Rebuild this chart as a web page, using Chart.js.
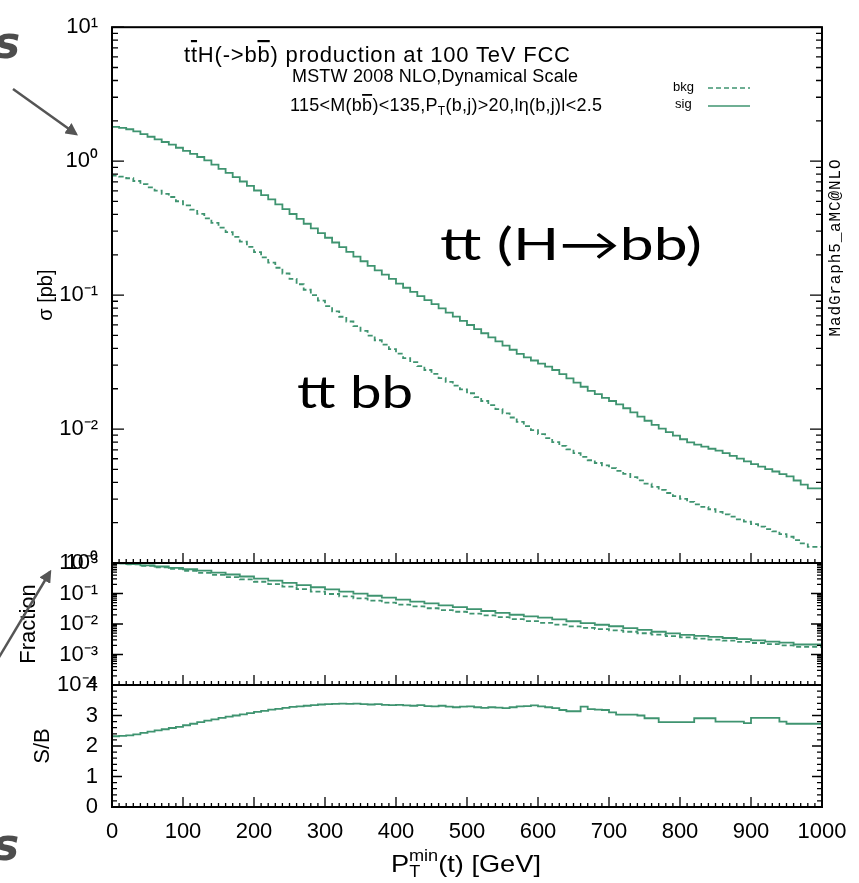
<!DOCTYPE html>
<html>
<head>
<meta charset="utf-8">
<script src="https://cdn.jsdelivr.net/npm/chart.js@4.4.1/dist/chart.umd.min.js"></script>
<style>
  html,body{margin:0;padding:0;background:#fff;}
  #wrap{position:relative;width:859px;height:883px;overflow:hidden;background:#fff;}
  canvas,svg{position:absolute;left:0;top:0;}
</style>
</head>
<body>
<div id="wrap">
  <canvas id="cMain" width="859" height="883"></canvas>
  <canvas id="cFrac" width="859" height="883"></canvas>
  <canvas id="cSB" width="859" height="883"></canvas>
  <svg id="ov" width="859" height="883" xmlns="http://www.w3.org/2000/svg"></svg>
</div>
<script>
// ---------------- DATA ----------------
// bin width 10 GeV, lower edges 0..990
const binWidth = 10;
const sigXsec = [1.811,1.803,1.774,1.730,1.667,1.592,1.521,1.455,1.390,1.327,
1.259,1.194,1.132,1.074,1.014,0.942,0.877,0.817,0.760,0.705,
0.653,0.604,0.558,0.518,0.476,0.438,0.403,0.371,0.341,0.315,
0.290,0.268,0.247,0.228,0.210,0.194,0.179,0.165,0.153,0.142,
0.132,0.122,0.1135,0.1057,0.0984,0.0918,0.0855,0.0796,0.0741,0.0690,
0.0643,0.0598,0.0557,0.0519,0.0484,0.0451,0.0420,0.0391,0.0364,0.0343,
0.0325,0.0308,0.0292,0.0276,0.0257,0.0239,0.0222,0.0207,0.0193,0.0182,
0.0171,0.0162,0.0153,0.0143,0.0133,0.0124,0.01153,0.01074,0.01009,0.00948,
0.00893,0.00839,0.00794,0.00766,0.00740,0.00713,0.00689,0.00661,0.00631,0.00601,
0.00574,0.00547,0.00524,0.00502,0.00482,0.00461,0.00443,0.00413,0.00385,0.00361];

const bkgXsec = [0.785,0.780,0.767,0.745,0.711,0.673,0.637,0.603,0.570,0.540,
0.502,0.467,0.434,0.404,0.374,0.346,0.319,0.295,0.272,0.251,
0.229,0.209,0.191,0.175,0.160,0.145,0.132,0.1205,0.1096,0.0998,
0.0910,0.0828,0.0755,0.0689,0.0635,0.0586,0.0541,0.0499,0.0460,0.0427,
0.0395,0.0366,0.0339,0.0316,0.0295,0.0276,0.0258,0.0240,0.0225,0.0211,
0.0198,0.0185,0.0173,0.0162,0.0151,0.0141,0.0131,0.0122,0.0113,0.0105,
0.00982,0.00918,0.00857,0.00800,0.00750,0.00705,0.00661,0.00619,0.00585,0.00558,
0.00535,0.00511,0.00488,0.00463,0.00438,0.00414,0.00391,0.00370,0.00351,0.00333,
0.00316,0.00301,0.00286,0.00274,0.00262,0.00252,0.00241,0.00231,0.00222,0.00212,
0.00204,0.00195,0.00187,0.00179,0.00172,0.00164,0.00157,0.00148,0.00140,0.00132];

const sbRatio = [2.32,2.32,2.33,2.35,2.38,2.43,2.47,2.51,2.55,2.59,
2.63,2.68,2.73,2.78,2.83,2.87,2.92,2.96,3.00,3.04,
3.08,3.12,3.15,3.19,3.22,3.25,3.28,3.30,3.32,3.34,
3.36,3.37,3.38,3.39,3.38,3.39,3.37,3.36,3.37,3.35,
3.34,3.35,3.33,3.32,3.34,3.31,3.30,3.32,3.29,3.27,
3.29,3.30,3.27,3.25,3.27,3.26,3.24,3.27,3.30,3.31,
3.33,3.30,3.27,3.24,3.18,3.14,3.14,3.29,3.21,3.19,
3.18,3.10,3.03,3.03,3.03,3.00,2.91,2.91,2.78,2.78,
2.78,2.78,2.78,2.91,2.91,2.91,2.80,2.80,2.80,2.80,
2.75,2.92,2.92,2.92,2.92,2.80,2.73,2.73,2.73,2.73];

// fraction panel, bin width 20 GeV, lower edges 0..980
const fracBinWidth = 20;
const sigFrac = [1.000,0.980,0.920,0.840,0.768,0.695,0.625,0.560,0.484,0.420,
0.361,0.308,0.263,0.223,0.188,0.160,0.136,0.116,0.0988,0.0845,
0.0729,0.0627,0.0543,0.0472,0.0409,0.0355,0.0308,0.0267,0.0232,0.0201,
0.0179,0.0161,0.0142,0.0123,0.0107,0.00944,0.00845,0.00734,0.00637,0.00557,
0.00493,0.00438,0.00409,0.00380,0.00348,0.00317,0.00289,0.00266,0.00245,0.00213];
const bkgFrac = [1.000,0.977,0.906,0.811,0.726,0.639,0.553,0.476,0.406,0.346,
0.292,0.243,0.204,0.168,0.140,0.116,0.0962,0.0809,0.0689,0.0586,
0.0503,0.0432,0.0376,0.0329,0.0287,0.0252,0.0220,0.0192,0.0167,0.0144,
0.0125,0.0109,0.00955,0.00842,0.00745,0.00682,0.00622,0.00558,0.00498,0.00447,
0.00403,0.00364,0.00334,0.00307,0.00283,0.00260,0.00238,0.00219,0.00200,0.00178];

// ticks
const xTicks = [0,100,200,300,400,500,600,700,800,900,1000];
const xTickLabels = ['0','100','200','300','400','500','600','700','800','900','1000'];
const mainYTicks = [1e-3,1e-2,1e-1,1,10];
const mainYTickLabels = ['10\u207B\u00B3','10\u207B\u00B2','10\u207B\u00B9','10\u2070','10\u00B9'];
const fracYTicks = [1e-4,1e-3,1e-2,1e-1,1];
const fracYTickLabels = ['10\u207B\u2074','10\u207B\u00B3','10\u207B\u00B2','10\u207B\u00B9','10\u2070'];
const sbYTicks = [0,1,2,3,4];
const sbYTickLabels = ['0','1','2','3','4'];

// ---------------- STYLE ----------------
const GREEN = '#3f9470';
const FONT = "'Liberation Sans', Arial, Helvetica, sans-serif";
const PLOT_LEFT = 112, PLOT_RIGHT = 822;
const CW = 859, CH = 883;

function steps(vals, width){
  const pts = vals.map((v,i)=>({x:i*width, y:v}));
  pts.push({x:vals.length*width, y:vals[vals.length-1]});
  return pts;
}
function logMinor(e0,e1){const o=[];for(let e=e0;e<e1;e++)for(let m=2;m<=9;m++)o.push(m*Math.pow(10,e));return o;}
function linMinor(a,b,s,skip){const o=[];for(let v=a;v<=b+1e-9;v+=s){const r=Math.round(v*1000)/1000;if(Math.abs(r/skip-Math.round(r/skip))>1e-6)o.push(r);}return o;}

const xMinor = linMinor(0,1000,10,100);

const frameTicks = {
  id:'frameTicks',
  afterDatasetsDraw(chart, args, o){
    const {ctx, chartArea:a, scales} = chart;
    const xs = scales.x, ys = scales.y;
    ctx.save();
    ctx.strokeStyle = '#000';
    ctx.lineWidth = 1.3;
    ctx.beginPath();
    const yT = (vals,len)=>{ for(const v of vals){ const p=ys.getPixelForValue(v); if(p<a.top-0.5||p>a.bottom+0.5) continue;
      ctx.moveTo(a.left,p); ctx.lineTo(a.left+len,p); ctx.moveTo(a.right,p); ctx.lineTo(a.right-len,p);} };
    const xT = (vals,len)=>{ for(const v of vals){ const p=xs.getPixelForValue(v);
      ctx.moveTo(p,a.bottom); ctx.lineTo(p,a.bottom-len);} };
    yT(o.yMajor,o.yMajLen); yT(o.yMinor,o.yMinLen);
    xT(xTicks,10); xT(xMinor,4);
    ctx.stroke();
    ctx.lineWidth = 2;
    ctx.strokeRect(a.left,a.top,a.right-a.left,a.bottom-a.top);
    ctx.restore();
  }
};

function yAxis(type,min,max,ticks,labels,title,titleSize,titlePad){
  return {
    type, min, max,
    afterFit(s){ s.width = PLOT_LEFT; },
    afterBuildTicks(s){ s.ticks = ticks.map(v=>({value:v})); },
    ticks:{ autoSkip:false, padding:14, color:'#000', font:{family:FONT,size:22},
      callback:(v)=>{ const i=ticks.findIndex(t=>Math.abs(t-v)<=Math.abs(t)*1e-6+1e-12); return i>=0?labels[i]:''; } },
    grid:{display:false, drawTicks:false},
    border:{display:false},
    title:{display:true, text:title, color:'#000', font:{family:FONT,size:titleSize}, padding:{top:titlePad,bottom:0}}
  };
}

function baseOpts(pad, yscale, xscale, tickOpts){
  return {
    responsive:false, animation:false, devicePixelRatio:1,
    layout:{padding:pad},
    plugins:{legend:{display:false}, tooltip:{enabled:false}, frameTicks:tickOpts},
    scales:{ x:xscale, y:yscale }
  };
}
const hiddenX = {type:'linear', min:0, max:1000, display:false};

// main panel
new Chart(document.getElementById('cMain'), {
  type:'line',
  data:{datasets:[
    {label:'bkg', data:steps(bkgXsec,binWidth), borderColor:GREEN, borderWidth:1.8, borderDash:[5,3], stepped:'after', pointRadius:0, fill:false},
    {label:'sig', data:steps(sigXsec,binWidth), borderColor:GREEN, borderWidth:1.8, stepped:'after', pointRadius:0, fill:false}
  ]},
  options: baseOpts({left:0,right:CW-PLOT_RIGHT,top:16,bottom:CH-563},
    yAxis('logarithmic',1e-3,10,mainYTicks,mainYTickLabels,'\u03C3 [pb]',20,34),
    hiddenX,
    {yMajor:mainYTicks, yMinor:logMinor(-3,1), yMajLen:12, yMinLen:6}),
  plugins:[frameTicks]
});

// fraction panel
new Chart(document.getElementById('cFrac'), {
  type:'line',
  data:{datasets:[
    {label:'bkg', data:steps(bkgFrac,fracBinWidth), borderColor:GREEN, borderWidth:1.8, borderDash:[5,3], stepped:'after', pointRadius:0, fill:false},
    {label:'sig', data:steps(sigFrac,fracBinWidth), borderColor:GREEN, borderWidth:1.8, stepped:'after', pointRadius:0, fill:false}
  ]},
  options: baseOpts({left:0,right:CW-PLOT_RIGHT,top:563,bottom:CH-685},
    yAxis('logarithmic',1e-4,1,fracYTicks,fracYTickLabels,'Fraction',22,16),
    hiddenX,
    {yMajor:fracYTicks, yMinor:logMinor(-4,0), yMajLen:11, yMinLen:5}),
  plugins:[frameTicks]
});

// S/B panel
new Chart(document.getElementById('cSB'), {
  type:'line',
  data:{datasets:[
    {label:'S/B', data:steps(sbRatio,binWidth), borderColor:GREEN, borderWidth:1.8, stepped:'after', pointRadius:0, fill:false}
  ]},
  options: baseOpts({left:0,right:CW-PLOT_RIGHT,top:685,bottom:CH-807-50},
    yAxis('linear',0,4,sbYTicks,sbYTickLabels,'S/B',22,30),
    {type:'linear', min:0, max:1000,
      afterFit(s){ s.height = 50; },
      afterBuildTicks(s){ s.ticks = xTicks.map(v=>({value:v})); },
      ticks:{autoSkip:false, maxRotation:0, padding:12, color:'#000', font:{family:FONT,size:22},
        callback:(v)=>{ const i=xTicks.indexOf(v); return i>=0?xTickLabels[i]:''; }},
      grid:{display:false, drawTicks:false}, border:{display:false}},
    {yMajor:sbYTicks, yMinor:linMinor(0,4,0.2,1), yMajLen:10, yMinLen:5}),
  plugins:[frameTicks]
});

// ---------------- TEXT OVERLAY ----------------
const svg = document.getElementById('ov');
svg.innerHTML = `
<defs>
  <marker id="ah" markerWidth="5" markerHeight="5" refX="4" refY="2.5" orient="auto" markerUnits="strokeWidth">
    <path d="M0,0 L5,2.5 L0,5 z" fill="#555"/>
  </marker>
</defs>
<g font-family="${FONT}" fill="#000">
  <text x="184" y="62" font-size="22" textLength="386">t<tspan text-decoration="overline">t</tspan>H(-&gt;b<tspan text-decoration="overline">b</tspan>) production at 100 TeV FCC</text>
  <text x="292" y="81.5" font-size="18" textLength="286">MSTW 2008 NLO,Dynamical Scale</text>
  <text x="290" y="111" font-size="18" textLength="312">115&lt;M(b<tspan text-decoration="overline">b</tspan>)&lt;135,P<tspan font-size="12" dy="4">T</tspan><tspan dy="-4">(b,j)&gt;20,l\u03B7(b,j)l&lt;2.5</tspan></text>
  <text x="673" y="91" font-size="13">bkg</text>
  <text x="675" y="108" font-size="13">sig</text>
  <text x="391" y="872" font-size="24" textLength="150" lengthAdjust="spacingAndGlyphs">P<tspan font-size="16" dy="5">T</tspan><tspan font-size="16" dx="-10" dy="-16">min</tspan><tspan dy="11">(t) [GeV]</tspan></text>
</g>
<line x1="708" y1="88" x2="750" y2="88" stroke="${GREEN}" stroke-width="1.5" stroke-dasharray="5,3"/>
<line x1="708" y1="106" x2="750" y2="106" stroke="${GREEN}" stroke-width="1.5"/>
<g font-family="Lato, 'Open Sans', sans-serif" fill="#000" font-size="45">
  <text x="440" y="260" textLength="262" lengthAdjust="spacingAndGlyphs">tt (H\u2192bb)</text>
  <text x="297" y="408" textLength="116" lengthAdjust="spacingAndGlyphs">tt bb</text>
</g>
<text transform="translate(836,248) rotate(-90)" text-anchor="middle" dominant-baseline="central" font-family="'Liberation Mono', 'DejaVu Sans Mono', monospace" font-size="16" textLength="177" fill="#000">MadGraph5_aMC@NLO</text>
<line x1="13" y1="89" x2="76" y2="134" stroke="#555" stroke-width="2.5" marker-end="url(#ah)"/>
<line x1="-2" y1="659" x2="50" y2="572" stroke="#555" stroke-width="2.5" marker-end="url(#ah)"/>
<g font-family="'DejaVu Sans', sans-serif" font-weight="bold" font-style="italic" fill="#4d4d4d" font-size="44">
  <text x="-6" y="58">s</text>
  <text x="-7" y="860">s</text>
</g>
`;
</script>
</body>
</html>
